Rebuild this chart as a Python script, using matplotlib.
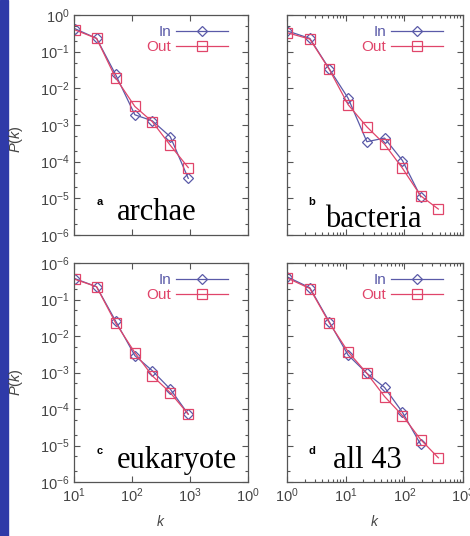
import matplotlib
matplotlib.use("Agg")
import matplotlib.pyplot as plt
from matplotlib.patches import Rectangle
from matplotlib.ticker import LogLocator, FixedLocator, FixedFormatter, NullFormatter
import numpy as np

plt.rcParams['font.family'] = ['Liberation Sans', 'DejaVu Sans']
plt.rcParams['mathtext.fontset'] = 'custom'
plt.rcParams['mathtext.rm'] = 'Liberation Sans'
plt.rcParams['mathtext.it'] = 'Liberation Sans:italic'

# degree values
k_small = [10.5, 24.5, 52, 112, 224, 457, 933]          # archae, eukaryote
k_large = [1.0, 2.45, 5.25, 11, 23, 46, 93, 190, 380]   # bacteria, all 43

archae_in = [0.42, 0.23, 0.024, 0.0019, 0.0013, 0.00048, 3.5e-5]
archae_out = [0.39, 0.23, 0.0195, 0.0032, 0.00123, 0.00028, 6.9e-5]

bacteria_in = [0.37, 0.23, 0.034, 0.0054, 3.5e-4, 4.4e-4, 1.07e-4, 1.1e-5]
bacteria_out = [0.33, 0.22, 0.033, 0.0036, 8.9e-4, 3.0e-4, 6.6e-5, 1.17e-5, 5.1e-6]

eukaryote_in = [0.37, 0.224, 0.026, 0.0029, 0.00112, 3.5e-4, 7.2e-5]
eukaryote_out = [0.355, 0.224, 0.023, 0.0035, 8.1e-4, 2.8e-4, 7.2e-5]

all_in = [0.42, 0.21, 0.0245, 0.003, 9.5e-4, 3.9e-4, 8.1e-5, 1.07e-5]
all_out = [0.39, 0.2, 0.023, 0.0037, 9.5e-4, 2.2e-4, 6.6e-5, 1.45e-5, 4.6e-6]

y_ticks = [1e-6, 1e-5, 1e-4, 1e-3, 1e-2, 1e-1, 1e0]
y_labels_top = ['$10^{-6}$', '$10^{-5}$', '$10^{-4}$', '$10^{-3}$', '$10^{-2}$', '$10^{-1}$', '$10^{0}$']
y_labels_bottom = ['$10^{-6}$', '$10^{-5}$', '$10^{-4}$', '$10^{-3}$', '$10^{-2}$', '$10^{-1}$', '$10^{-6}$']
x_ticks_small = [1e1, 1e2, 1e3, 1e4]
x_labels_small = ['$10^{1}$', '$10^{2}$', '$10^{3}$', '$10^{0}$']
x_ticks_large = [1e0, 1e1, 1e2, 1e3]
x_labels_large = ['$10^{0}$', '$10^{1}$', '$10^{2}$', '$10^{3}$']

C_IN = '#5a5aa8'
C_OUT = '#e0456a'
GREY = '#444444'

W, H = 470, 536
fig = plt.figure(figsize=(W / 100, H / 100), dpi=100)
fig.patches.append(Rectangle((0, 0), 8 / W, 1, transform=fig.transFigure,
                             color='#2f3aa8', zorder=0))


def px_axes(left, top, right, bottom):
    return fig.add_axes([left / W, 1 - bottom / H, (right - left) / W, (bottom - top) / H])


def draw_panel(ax, k_in, p_in, k_out, p_out, name, letter, xticks, xlabels, ylabels,
               name_pos, letter_pos):
    ax.plot(k_in, p_in, color=C_IN, marker='D', mfc='none', ms=5, mew=0.9, lw=0.9, label='In')
    ax.plot(k_out, p_out, color=C_OUT, marker='s', mfc='none', ms=7.5, mew=0.9, lw=0.9, label='Out')
    ax.set_xscale('log')
    ax.set_yscale('log')
    ax.set_xlim(xticks[0], xticks[-1])
    ax.set_ylim(1e-6, 1)

    ax.xaxis.set_major_locator(FixedLocator(xticks))
    ax.xaxis.set_minor_locator(LogLocator(subs=np.arange(2, 10)))
    ax.xaxis.set_minor_formatter(NullFormatter())
    ax.yaxis.set_major_locator(FixedLocator(y_ticks))
    ax.yaxis.set_minor_locator(LogLocator(subs=(2.0, 5.0)))
    ax.yaxis.set_minor_formatter(NullFormatter())
    if xlabels is None:
        ax.xaxis.set_major_formatter(NullFormatter())
    else:
        ax.xaxis.set_major_formatter(FixedFormatter(xlabels))
        ax.set_xlabel('$k$', fontsize=10, color=GREY, labelpad=7)
    if ylabels is None:
        ax.yaxis.set_major_formatter(NullFormatter())
    else:
        ax.yaxis.set_major_formatter(FixedFormatter(ylabels))

    ax.tick_params(which='both', direction='in', top=True, right=True,
                   color='#555555', labelcolor=GREY, labelsize=10.5, width=0.8)
    ax.tick_params(which='major', length=4, pad=3)
    ax.tick_params(which='minor', length=2)
    for s in ax.spines.values():
        s.set_color('#555555')
        s.set_linewidth(0.9)

    leg = ax.legend(loc='upper right', bbox_to_anchor=(0.885, 0.955), frameon=False,
                    markerfirst=False, handlelength=3.4, handletextpad=0.3,
                    labelspacing=0.1, borderpad=0, borderaxespad=0, fontsize=11)
    for txt, col in zip(leg.get_texts(), [C_IN, C_OUT]):
        txt.set_color(col)

    ax.text(name_pos[0], name_pos[1], name, transform=ax.transAxes, family='Liberation Serif',
            fontsize=22, color='black', ha='left', va='baseline')
    ax.text(letter_pos[0], letter_pos[1], letter, transform=ax.transAxes, fontsize=8,
            fontweight='bold', color='black', ha='center', va='center')


ax_a = px_axes(74, 15, 248, 235)
ax_b = px_axes(287, 15, 463, 235)
ax_c = px_axes(74, 263, 248, 482)
ax_d = px_axes(287, 263, 463, 482)

draw_panel(ax_a, k_small, archae_in, k_small, archae_out, 'archae', 'a',
           x_ticks_small, None, y_labels_top, (0.245, 0.068), (0.15, 0.15))
draw_panel(ax_b, k_large[:8], bacteria_in, k_large, bacteria_out, 'bacteria', 'b',
           x_ticks_large, None, None, (0.216, 0.035), (0.142, 0.15))
draw_panel(ax_c, k_small, eukaryote_in, k_small, eukaryote_out, 'eukaryote', 'c',
           x_ticks_small, x_labels_small, y_labels_bottom, (0.245, 0.065), (0.15, 0.14))
draw_panel(ax_d, k_large[:8], all_in, k_large, all_out, 'all 43', 'd',
           x_ticks_large, x_labels_large, None, (0.26, 0.065), (0.142, 0.14))

# y-axis labels, placed in pixel positions next to the blue strip
for y_px in (139, 382):
    fig.text(16 / W, 1 - y_px / H, '$P(k)$', rotation=90, fontsize=10.5, color=GREY,
             ha='center', va='center')

fig.savefig('out.png', dpi=100)
